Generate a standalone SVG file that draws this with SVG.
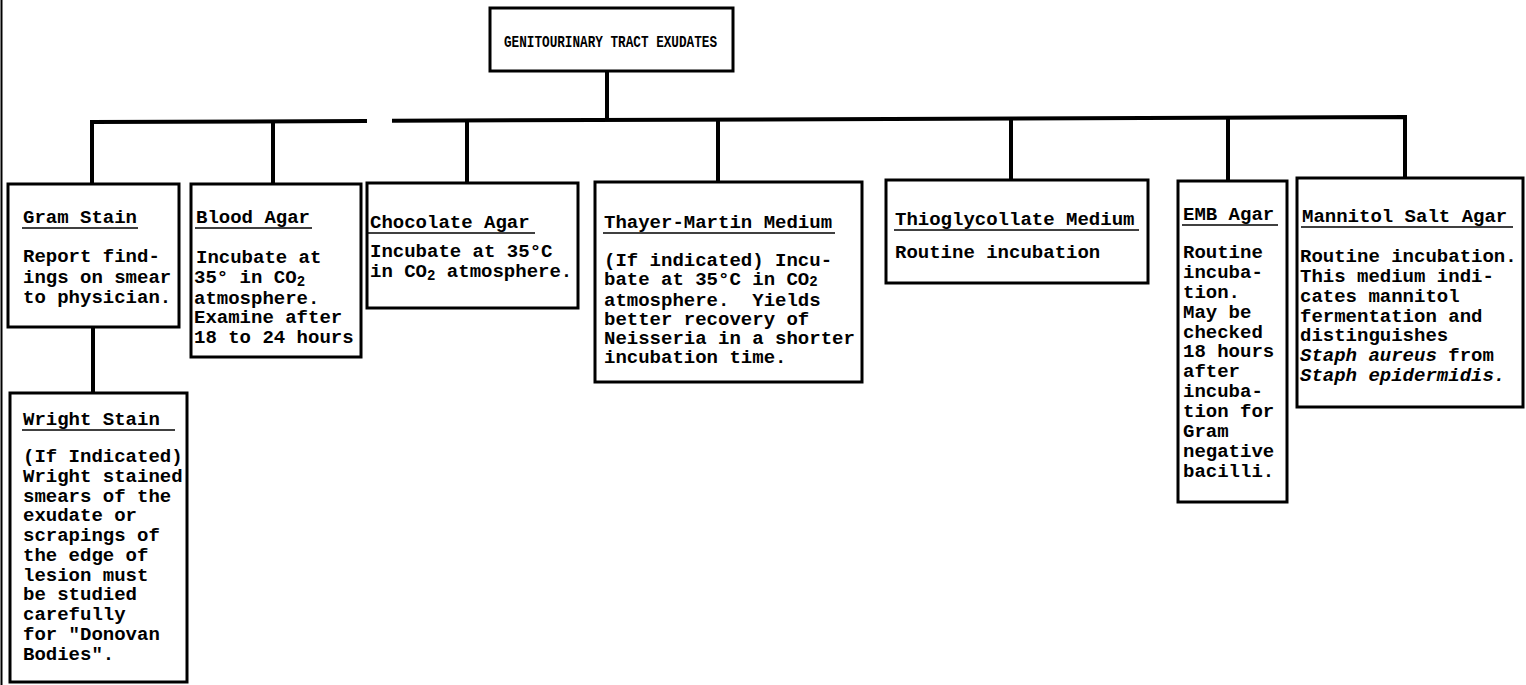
<svg xmlns="http://www.w3.org/2000/svg" width="1526" height="685" viewBox="0 0 1526 685">
<style>
.box{fill:#fff;stroke:#000;stroke-width:3}
.t{font-family:"Liberation Mono",monospace;font-size:19px;font-weight:bold;fill:#000}
.h{font-family:"Liberation Mono",monospace;font-size:16px;font-weight:bold;fill:#000}
.ul{stroke:#000;stroke-width:1.6}
.conn{stroke:#000;stroke-width:4;fill:none}
.it{font-style:italic}
.sub{font-size:14px}
</style>
<rect width="1526" height="685" fill="#fff"/>
<line x1="1.5" y1="0" x2="1.5" y2="685" stroke="#000" stroke-width="2"/>
<g id="connectors">
<line class="conn" x1="607" y1="71" x2="607" y2="121"/>
<polyline class="conn" points="92,185 92,122 367,121"/>
<polyline class="conn" points="392,120.8 1405,117 1405,178"/>
<line class="conn" x1="273" y1="121.3" x2="273" y2="185"/>
<line class="conn" x1="467" y1="120.6" x2="467" y2="184"/>
<line class="conn" x1="718" y1="119.6" x2="718" y2="183"/>
<line class="conn" x1="1011" y1="118.5" x2="1011" y2="181"/>
<line class="conn" x1="1228" y1="117.7" x2="1228" y2="181"/>
<line class="conn" x1="93" y1="327" x2="93" y2="393"/>
</g>
<g id="root">
<rect class="box" x="490" y="8" width="243" height="63" stroke-width="2.5"/>
<text class="h" x="504" y="47" textLength="213" lengthAdjust="spacingAndGlyphs">GENITOURINARY TRACT EXUDATES</text>
</g>
<g id="gram">
<rect class="box" x="8" y="184" width="171" height="143"/>
<text class="t" x="23" y="223">Gram Stain</text>
<line class="ul" x1="22" y1="228" x2="138" y2="228"/>
<text class="t" x="23" y="262">Report find-</text>
<text class="t" x="23" y="283">ings on smear</text>
<text class="t" x="23" y="303">to physician.</text>
</g>
<g id="wright">
<rect class="box" x="10" y="393" width="177" height="289"/>
<text class="t" x="23" y="425">Wright Stain</text>
<line class="ul" x1="22" y1="430" x2="175" y2="430"/>
<text class="t" x="23" y="462">(If Indicated)</text>
<text class="t" x="23" y="482">Wright stained</text>
<text class="t" x="23" y="502">smears of the</text>
<text class="t" x="23" y="521">exudate or</text>
<text class="t" x="23" y="541">scrapings of</text>
<text class="t" x="23" y="561">the edge of</text>
<text class="t" x="23" y="581">lesion must</text>
<text class="t" x="23" y="600">be studied</text>
<text class="t" x="23" y="620">carefully</text>
<text class="t" x="23" y="640">for "Donovan</text>
<text class="t" x="23" y="660">Bodies".</text>
</g>
<g id="blood">
<rect class="box" x="191" y="184" width="170" height="173"/>
<text class="t" x="196" y="223">Blood Agar</text>
<line class="ul" x1="195" y1="228" x2="312" y2="228"/>
<text class="t" x="196" y="263">Incubate at</text>
<text class="t" x="194" y="283">35° in CO<tspan class="sub" dy="3">2</tspan></text>
<text class="t" x="194" y="304">atmosphere.</text>
<text class="t" x="194" y="323">Examine after</text>
<text class="t" x="194" y="343">18 to 24 hours</text>
</g>
<g id="chocolate">
<rect class="box" x="367" y="183" width="211" height="125"/>
<text class="t" x="370" y="228">Chocolate Agar</text>
<line class="ul" x1="367" y1="233" x2="535" y2="233"/>
<text class="t" x="370" y="257">Incubate at 35°C</text>
<text class="t" x="370" y="277">in CO<tspan class="sub" dy="3">2</tspan><tspan dy="-3"> atmosphere.</tspan></text>
</g>
<g id="thayer">
<rect class="box" x="595" y="182" width="267" height="200"/>
<text class="t" x="604" y="228">Thayer-Martin Medium</text>
<line class="ul" x1="603" y1="233" x2="835" y2="233"/>
<text class="t" x="604" y="266">(If indicated) Incu-</text>
<text class="t" x="604" y="285">bate at 35°C in CO<tspan class="sub" dy="1">2</tspan></text>
<text class="t" x="604" y="306">atmosphere.&#160; Yields</text>
<text class="t" x="604" y="325">better recovery of</text>
<text class="t" x="604" y="344">Neisseria in a shorter</text>
<text class="t" x="604" y="363">incubation time.</text>
</g>
<g id="thio">
<rect class="box" x="886" y="180" width="262" height="103"/>
<text class="t" x="895" y="225">Thioglycollate Medium</text>
<line class="ul" x1="894" y1="230" x2="1139" y2="230"/>
<text class="t" x="895" y="258">Routine incubation</text>
</g>
<g id="emb">
<rect class="box" x="1178" y="181" width="109" height="321"/>
<text class="t" x="1183" y="220">EMB Agar</text>
<line class="ul" x1="1182" y1="225" x2="1278" y2="225"/>
<text class="t" x="1183" y="258">Routine</text>
<text class="t" x="1183" y="278">incuba-</text>
<text class="t" x="1183" y="298">tion.</text>
<text class="t" x="1183" y="318">May be</text>
<text class="t" x="1183" y="338">checked</text>
<text class="t" x="1183" y="357">18 hours</text>
<text class="t" x="1183" y="377">after</text>
<text class="t" x="1183" y="397">incuba-</text>
<text class="t" x="1183" y="417">tion for</text>
<text class="t" x="1183" y="437">Gram</text>
<text class="t" x="1183" y="457">negative</text>
<text class="t" x="1183" y="477">bacilli.</text>
</g>
<g id="mannitol">
<rect class="box" x="1297" y="178" width="226" height="229"/>
<text class="t" x="1302" y="222">Mannitol Salt Agar</text>
<line class="ul" x1="1301" y1="227" x2="1513" y2="227"/>
<text class="t" x="1300" y="262">Routine incubation.</text>
<text class="t" x="1300" y="282">This medium indi-</text>
<text class="t" x="1300" y="302">cates mannitol</text>
<text class="t" x="1300" y="322">fermentation and</text>
<text class="t" x="1300" y="341">distinguishes</text>
<text class="t" x="1300" y="361"><tspan class="it">Staph aureus</tspan> from</text>
<text class="t" x="1300" y="381"><tspan class="it">Staph epidermidis.</tspan></text>
</g>
</svg>
